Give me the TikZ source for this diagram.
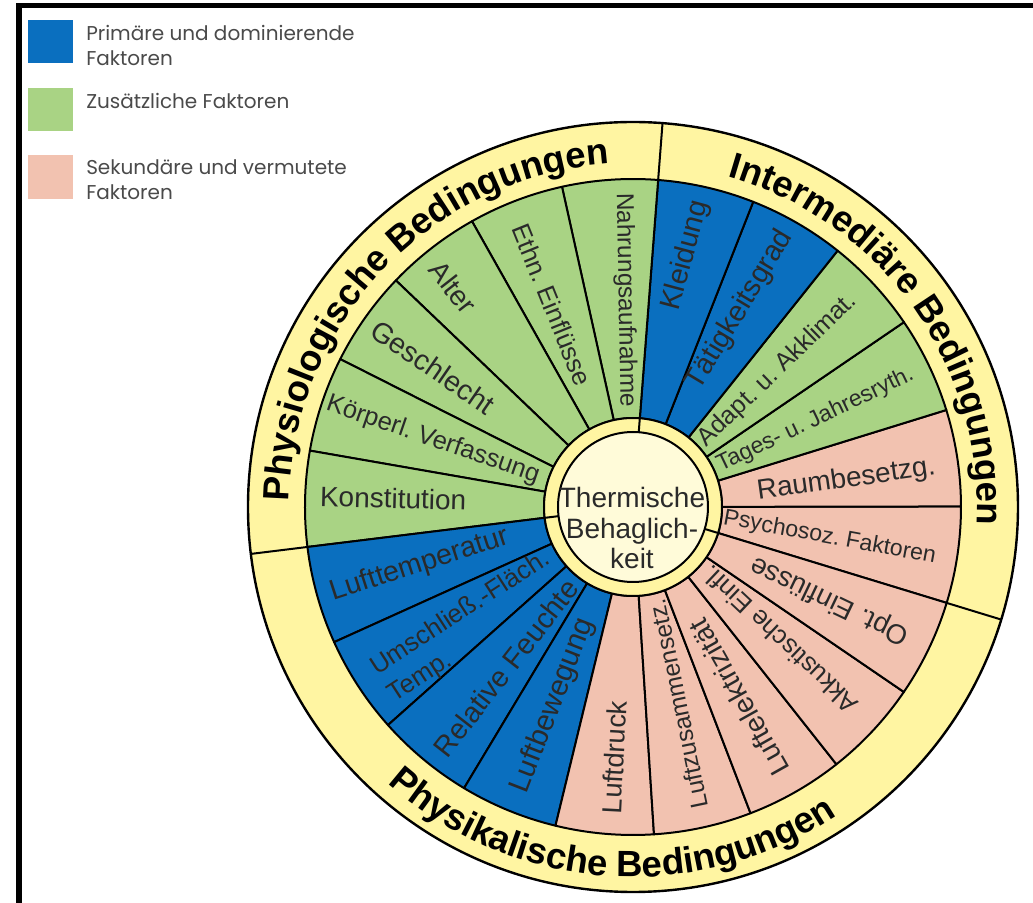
\documentclass[tikz,border=0pt]{standalone}
\usepackage{fontspec}
\setmainfont{Liberation Sans}
\newfontfamily\legendfont{Poppins}
\usetikzlibrary{decorations.text}
\definecolor{cblue}{HTML}{0A6FBF}
\definecolor{cgreen}{HTML}{A9D384}
\definecolor{cpink}{HTML}{F2C2B0}
\definecolor{cyellow}{HTML}{FFF5A2}
\definecolor{ccream}{HTML}{FFFBD9}
\definecolor{ctext}{HTML}{2A2A2A}
\definecolor{clegend}{HTML}{4A4A4A}
\newcommand\mysector[3]{%
  \filldraw[fill=#3, draw=black, line width=1.5pt, line join=round]
    (#1:89) -- (#1:328) arc[start angle=#1, end angle=#2, radius=328]
    -- (#2:89) arc[start angle=#2, end angle=#1, radius=89] -- cycle;}
\newcommand\fs[1]{\fontsize{#1}{#1}\selectfont}
\newcommand\ringfont{\bfseries\fontsize{27.4}{30}\selectfont}
\frenchspacing
\tikzset{
  seglabel/.style={text=ctext, inner sep=0pt, align=center},
  legendtext/.style={text=clegend, inner sep=0pt, anchor=west, align=left,
    font=\legendfont\fontsize{15}{18.75}\selectfont},
  divider/.style={draw=black, line width=1.5pt},
}
\begin{document}
\begin{tikzpicture}[x=0.75pt, y=0.75pt]
\useasboundingbox (-633,-396) rectangle (400,507);
\fill[white] (-633,-396) rectangle (400,507);
% frame
\fill[black] (-617,-396) rectangle (-611,504);
\fill[black] (-617,504) rectangle (400,499);
% legend
\fill[cblue] (-605,487) rectangle (-560,444);
\fill[cgreen] (-605,419) rectangle (-560,376);
\fill[cpink] (-605,352) rectangle (-560,308);
\node[legendtext] (lg1) at (-547,461.5) {Primäre und dominierende\\Faktoren};
\node[legendtext] (lg2) at (-547,406) {Zusätzliche Faktoren};
\node[legendtext] (lg3) at (-547,327) {Sekundäre und vermutete\\Faktoren};
% outer ring
\filldraw[fill=cyellow, draw=black, line width=1.8pt] (0,0) circle[radius=385];
% sectors: Intermediaere
\foreach \a/\b/\c in {-17/0.1/cpink, 0.1/17.2/cpink, 17.2/34.3/cgreen, 34.3/51.4/cgreen, 51.4/68.5/cblue, 68.5/85.6/cblue}
  {\mysector{\a}{\b}{\c}}
% Physiologische
\foreach \a/\b in {85.6/102.5, 102.5/119.4, 119.4/136.3, 136.3/153.2, 153.2/170.1, 170.1/187}
  {\mysector{\a}{\b}{cgreen}}
% Physikalische
\foreach \a/\b/\c in {187/204.33/cblue, 204.33/221.67/cblue, 221.67/239/cblue, 239/256.33/cblue,
  256.33/273.67/cpink, 273.67/291/cpink, 291/308.33/cpink, 308.33/325.67/cpink, 325.67/343/cpink}
  {\mysector{\a}{\b}{\c}}
% inner rings
\filldraw[fill=cyellow, draw=black, line width=1.5pt] (0,0) circle[radius=89];
\filldraw[fill=ccream, draw=black, line width=1.5pt] (0,0) circle[radius=75];
% dividers
\foreach \a in {85.6, 187, -17} {
  \draw[divider] (\a:328) -- (\a:385);
  \draw[divider] (\a:75) -- (\a:89);
}
% centre
\node[text=ctext, align=center, inner sep=0pt, font=\fontsize{21}{23.2}\selectfont] (centre) at (-1,-21) {Thermische\\Behaglich-\\keit};
% segment labels
\node[seglabel, rotate=-89, font=\fs{18.3}] (l1) at (92.2:207) {Nahrungsaufnahme};
\node[seglabel, rotate=-68, font=\fs{19.3}] (l2) at (111.8:218) {Ethn. Einflüsse};
\node[seglabel, rotate=-52, font=\fs{21}] (l3) at (129.3:284) {Alter};
\node[seglabel, rotate=-34.5, font=\fs{21.4}] (l4) at (145:244) {Geschlecht};
\node[seglabel, rotate=-19, font=\fs{19.1}] (l5) at (161.5:211) {Körperl. Verfassung};
\node[seglabel, rotate=-1.5, font=\fs{21}] (l6) at (177.9:240) {Konstitution};
\node[seglabel, rotate=75, font=\fs{21.6}] (l7) at (78.1:257) {Kleidung};
\node[seglabel, rotate=59, font=\fs{21.6}] (l8) at (61.5:224) {Tätigkeitsgrad};
\node[seglabel, rotate=44, font=\fs{18.8}] (l9) at (43.4:199) {Adapt. u. Akklimat.};
\node[seglabel, rotate=25.6, font=\fs{17.3}] (l10) at (25.5:202) {Tages- u. Jahresryth.};
\node[seglabel, rotate=8, font=\fs{20.9}] (l11) at (7.2:215) {Raumbesetzg.};
\node[seglabel, rotate=-10.5, font=\fs{17.3}] (l12) at (-8.9:199) {Psychosoz. Faktoren};
\node[seglabel, rotate=154.5, font=\fs{20.7}] (l13) at (-25.3:218) {Opt. Einflüsse};
\node[seglabel, rotate=136.7, font=\fs{19.4}] (l14) at (-42.1:198) {Akkustische Einfl.};
\node[seglabel, rotate=119.3, font=\fs{21.2}] (l15) at (-61:218) {Luftelektrizität};
\node[seglabel, rotate=101.7, font=\fs{18.4}] (l16) at (-77.1:202) {Luftzusammensetz.};
\node[seglabel, rotate=87, font=\fs{20.6}] (l17) at (265.7:251) {Luftdruck};
\node[seglabel, rotate=68.8, font=\fs{22}] (l18) at (248.1:214) {Luftbewegung};
\node[seglabel, rotate=52, font=\fs{21.6}] (l19) at (231.7:205) {Relative Feuchte};
\node[seglabel, rotate=33, align=left, font=\fontsize{19.3}{24}\selectfont] (l20) at (216.2:203) {Umschließ.-Fläch.\\Temp.};
\node[seglabel, rotate=18, font=\fs{21.4}] (l21) at (195.2:221) {Lufttemperatur};
% ring titles
\path[decorate, decoration={text along path, text align=center,
  text={|\ringfont|Physiologische Bedingungen}}]
  (186.5:344) arc[start angle=186.5, end angle=86.5, radius=344];
\path[decorate, decoration={text along path, text align=center,
  text={|\ringfont|Intermediäre Bedingungen}}]
  (85.5:344) arc[start angle=85.5, end angle=-14.5, radius=344];
\path[decorate, decoration={text along path, text align=center,
  text={|\ringfont|Physikalische Bedingungen}}]
  (216:370) arc[start angle=216, end angle=316, radius=370];
\end{tikzpicture}
\end{document}
